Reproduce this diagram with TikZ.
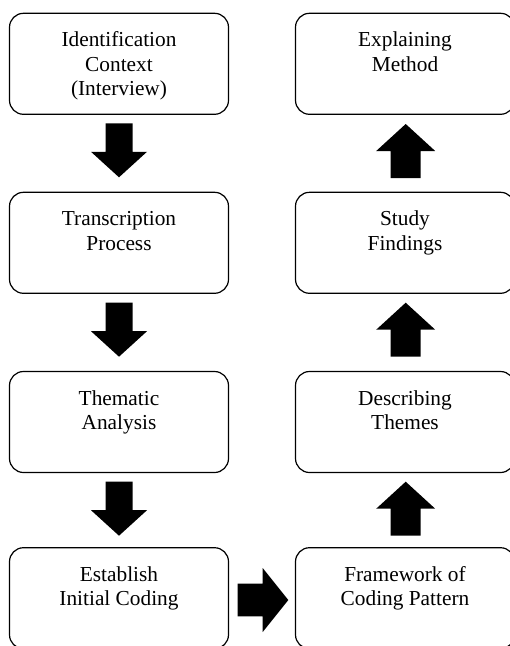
\documentclass[tikz,border=0pt]{standalone}
\usepackage{fontspec}
\setmainfont{Liberation Serif}
\begin{document}
\begin{tikzpicture}[x=0.75pt,y=-0.75pt,
  box/.style={draw=black, line width=0.9pt, rounded corners=10.5pt, minimum width=164.25pt, minimum height=75.75pt, inner sep=0pt},
  txt/.style={anchor=north, inner sep=0pt, align=center, font=\fontsize{16}{18.3}\selectfont},
  darr/.pic={\fill[black] (-13.5,0) -- (13.5,0) -- (13.5,28.5) -- (28,28.5) -- (0,54) -- (-28,28.5) -- (-13.5,28.5) -- cycle;},
  uarr/.pic={\fill[black] (0,0) -- (29.5,27) -- (15,27) -- (15,54) -- (-15,54) -- (-15,27) -- (-29.5,27) -- cycle;},
  rarr/.pic={\fill[black] (0,-16.3) -- (25,-16.3) -- (25,-32) -- (50.6,0) -- (25,32) -- (25,16.3) -- (0,16.3) -- cycle;}
]
\useasboundingbox (0,0) rectangle (510,646);
% left column
\node[box] (l1) at (119,63.8) {};
\node[box] (l2) at (119,242.8) {};
\node[box] (l3) at (119,422) {};
\node[box] (l4) at (119,598.2) {};
% right column
\node[box] (r1) at (405,63.8) {};
\node[box] (r2) at (405,242.8) {};
\node[box] (r3) at (405,422) {};
\node[box] (r4) at (405,598.2) {};
% texts
\node[txt] (tl1) at ([yshift=-12.7pt]l1.north) {\strut Identification\\Context\\(Interview)};
\node[txt] (tl2) at ([yshift=-12.7pt]l2.north) {\strut Transcription\\Process};
\node[txt] (tl3) at ([yshift=-12.7pt]l3.north) {\strut Thematic\\Analysis};
\node[txt] (tl4) at ([yshift=-12.7pt]l4.north) {\strut Establish\\Initial Coding};
\node[txt] (tr1) at ([yshift=-12.7pt]r1.north) {\strut Explaining\\Method};
\node[txt] (tr2) at ([yshift=-12.7pt]r2.north) {\strut Study\\Findings};
\node[txt] (tr3) at ([yshift=-12.7pt]r3.north) {\strut Describing\\Themes};
\node[txt] (tr4) at ([yshift=-12.7pt]r4.north) {\strut Framework of\\Coding Pattern};
% block arrows
\pic at (119,123.3) {darr};
\pic at (119,302.7) {darr};
\pic at (119,481.7) {darr};
\pic at (405.7,124) {uarr};
\pic at (405.7,302.7) {uarr};
\pic at (405.7,481.7) {uarr};
\pic at (237.7,600) {rarr};
\end{tikzpicture}
\end{document}
